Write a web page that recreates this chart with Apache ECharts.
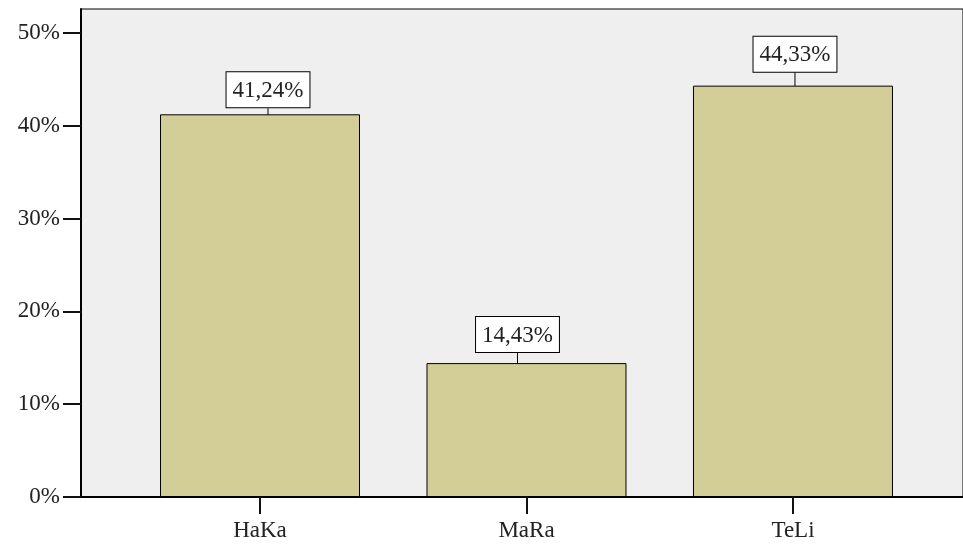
<!DOCTYPE html>
<html>
<head>
<meta charset="utf-8">
<script src="https://cdn.jsdelivr.net/npm/echarts@6/dist/echarts.min.js"></script>
<style>html,body{margin:0;padding:0;background:#fff;}#c{width:963px;height:545px;}</style>
</head>
<body>
<div id="c"></div>
<script>
const categories = ['HaKa', 'MaRa', 'TeLi'];
const values = [41.24, 14.43, 44.33];
const yTicks = [0, 10, 20, 30, 40, 50];
const xTicks = [0, 1, 2];

const FONT = '"Liberation Serif", "DejaVu Serif", serif';
const chart = echarts.init(document.getElementById('c'), null, {renderer: 'canvas'});
const labelShift = [[8, -1], [-9, -5], [2, -8]];

chart.setOption({
  animation: false,
  grid: {left: 81, top: 9, right: 0, bottom: 48, show: true, backgroundColor: '#efefef', borderColor: '#000', borderWidth: 1},
  xAxis: {
    type: 'value', min: -0.6717, max: 2.638,
    splitLine: {show: false},
    axisLine: {show: true, onZero: false, lineStyle: {color: '#000', width: 2}},
    axisTick: {show: true, length: 17, customValues: xTicks, lineStyle: {color: '#111', width: 2}},
    axisLabel: {customValues: xTicks, margin: 22, color: '#222', fontFamily: FONT, fontSize: 23,
      formatter: v => categories[Math.round(v)] || ''}
  },
  yAxis: {
    type: 'value', min: 0, max: 52.59,
    splitLine: {show: false},
    axisLine: {show: true, onZero: false, lineStyle: {color: '#000', width: 2}},
    axisTick: {show: true, length: 18, customValues: yTicks, lineStyle: {color: '#111', width: 2}},
    axisLabel: {customValues: yTicks, margin: 21, color: '#222', fontFamily: FONT, fontSize: 23,
      formatter: v => v + '%'}
  },
  series: [{
    type: 'bar',
    barWidth: 200,
    data: values.map((v, i) => [i, v]),
    itemStyle: {color: '#d3ce98', borderColor: '#000', borderWidth: 1},
    label: {
      show: true, position: 'top', distance: 6,
      formatter: p => p.value[1].toFixed(2).replace('.', ',') + '%',
      backgroundColor: '#fff', borderColor: '#000', borderWidth: 1,
      padding: [6, 6, 4, 6], lineHeight: 25, color: '#222', fontFamily: FONT, fontSize: 23
    },
    labelLine: {show: true, lineStyle: {color: '#000', width: 1}},
    labelLayout: p => ({dx: labelShift[p.dataIndex][0], dy: labelShift[p.dataIndex][1]})
  }]
});
</script>
</body>
</html>
